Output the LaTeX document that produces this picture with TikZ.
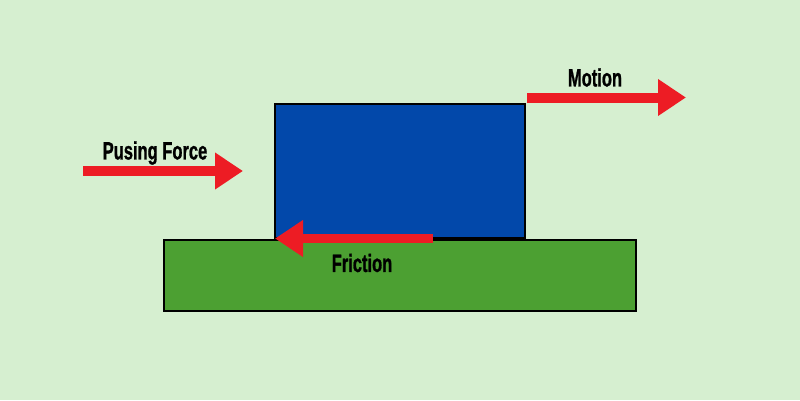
\documentclass[tikz,border=0pt]{standalone}
\usepackage{fontspec}
\setmainfont{Liberation Sans}
\newfontfamily\lblfont[FakeBold=1.2]{Liberation Sans Bold}
\usepackage{graphicx}
\usetikzlibrary{arrows.meta}
\definecolor{bgc}{RGB}{214,239,208}
\definecolor{boxblue}{RGB}{2,72,170}
\definecolor{groundgreen}{RGB}{76,160,50}
\definecolor{arrred}{RGB}{237,28,36}
\tikzset{
  forcearrow/.style={draw=arrred, line width=10pt, line cap=butt,
    -{Triangle[length=28pt,width=35pt,fill=arrred]}},
  lbl/.style={inner sep=0pt, font=\lblfont\fontsize{25}{25}\selectfont, text=black},
}
\newcommand{\cond}[1]{\scalebox{0.66}[1]{#1}}
\begin{document}
\begin{tikzpicture}[x=1pt,y=-1pt]
\fill[bgc] (0,0) rectangle (800,400);
\useasboundingbox (0,0) rectangle (800,400);
\node[draw=black, line width=2pt, fill=groundgreen, minimum width=472pt, minimum height=71pt, inner sep=0pt] (ground) at (400,275.5) {};
\node[draw=black, line width=2pt, fill=boxblue, minimum width=250pt, minimum height=134pt, inner sep=0pt] (block) at (400,171) {};
\coordinate (pushS) at (83,171);
\coordinate (pushE) at (243,171);
\coordinate (motS) at (527,97.5);
\coordinate (motE) at (686,97.5);
\coordinate (friS) at (433,238.5);
\coordinate (friE) at (275,238.5);
\draw[forcearrow] (pushS) -- (pushE);
\draw[forcearrow] (motS) -- (motE);
\draw[forcearrow, line width=9pt] (friS) -- (friE);
\node[lbl] (lpush) at (155,153) {\cond{Pusing Force}};
\node[lbl] (lmot) at (595,77.5) {\cond{Motion}};
\node[lbl] (lfri) at (362,263) {\cond{Friction}};
\end{tikzpicture}
\end{document}
